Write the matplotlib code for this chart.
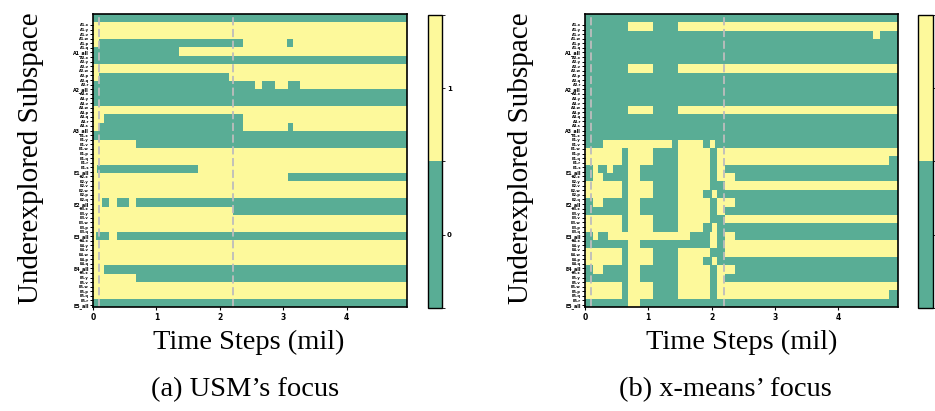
import numpy as np
import matplotlib
matplotlib.use('Agg')
import matplotlib.pyplot as plt
from matplotlib.colors import ListedColormap, BoundaryNorm

# time axis (million steps) and the two dashed markers
t_end = 4.95
marker_times = [0.1, 2.2]
x_ticks = [0, 1, 2, 3, 4]

# y tick labels: big group label preceded by its sub-labels
groups = ['A1', 'A2', 'A3', 'E1', 'E2', 'E3', 'E4', 'E5']
n_sub = [6, 7, 8, 8, 6, 6, 6, 7]
sub_names = ['x', 'y', 'v', 'w', 'p', 'q', 'r', 's']

# each row: (value at t=0, times where the value flips); 0 = teal, 1 = yellow
usm_rows = [
    (0, []),
    (1, []),
    (1, []),
    (1, [0.1, 2.37, 3.06, 3.16]),
    (0, [1.36]),
    (0, []),
    (1, []),
    (1, [0.1, 2.15]),
    (0, [2.55, 2.66, 2.87, 3.07, 3.26]),
    (0, []),
    (0, []),
    (1, []),
    (1, [0.17, 2.37]),
    (1, [0.1, 2.37, 3.07, 3.16]),
    (0, []),
    (1, [0.67]),
    (1, []),
    (1, []),
    (1, [0.06, 1.65]),
    (1, [3.08]),
    (1, []),
    (1, []),
    (1, [0.14, 0.25, 0.37, 0.56, 0.67]),
    (1, [2.2]),
    (1, []),
    (1, []),
    (1, [0.05, 0.25, 0.37]),
    (1, []),
    (1, []),
    (1, []),
    (1, [0.17]),
    (1, [0.67]),
    (1, []),
    (1, []),
    (0, []),
]

xmeans_rows = [
    (0, []),
    (0, [0.68, 1.08, 1.47]),
    (0, [4.55, 4.66]),
    (0, []),
    (0, []),
    (0, []),
    (0, [0.68, 1.08, 1.47]),
    (0, []),
    (0, []),
    (0, []),
    (0, []),
    (0, [0.68, 1.08, 1.47]),
    (0, []),
    (0, []),
    (0, []),
    (0, [0.29, 1.37, 1.47, 1.87, 1.97, 2.05]),
    (1, [0.58, 0.68, 1.08, 1.47, 1.97, 2.08]),
    (1, [0.58, 0.68, 1.08, 1.47, 1.97, 2.08, 4.8]),
    (0, [0.13, 0.2, 0.35, 0.45, 0.68, 0.87, 1.47, 1.97, 2.08, 2.21]),
    (0, [0.13, 0.29, 0.68, 0.87, 1.47, 1.97, 2.08, 2.37]),
    (1, [0.58, 0.68, 1.08, 1.47, 1.97, 2.21]),
    (1, [0.58, 0.68, 1.08, 1.47, 1.87, 2.0, 2.08]),
    (0, [0.13, 0.29, 0.68, 0.87, 1.47, 1.97, 2.08, 2.37]),
    (0, [0.68, 0.87, 1.47, 1.97, 2.08, 2.21]),
    (1, [0.58, 0.68, 1.08, 1.47, 1.97, 2.21]),
    (1, [0.58, 0.68, 1.08, 1.47, 1.87, 2.0, 2.08]),
    (0, [0.13, 0.2, 0.37, 1.66, 1.97, 2.08, 2.21, 2.37]),
    (0, [0.68, 0.87, 1.97, 2.08, 2.21]),
    (1, [0.58, 0.68, 1.08, 1.47, 1.97, 2.21]),
    (1, [0.58, 0.68, 1.08, 1.47, 1.87, 2.0, 2.08]),
    (0, [0.13, 0.29, 0.68, 0.87, 1.47, 1.97, 2.08, 2.37]),
    (0, [0.68, 0.87, 1.47, 1.97, 2.08, 2.21]),
    (1, [0.58, 0.68, 1.08, 1.47, 1.97, 2.08]),
    (1, [0.58, 0.68, 1.08, 1.47, 1.97, 2.08, 4.8]),
    (0, [0.68, 0.87]),
]

TEAL = '#59ad95'
YELLOW = '#fdf99b'
cmap = ListedColormap([TEAL, YELLOW])
norm = BoundaryNorm([-0.5, 0.5, 1.5], 2)
serif = 'Liberation Serif'


def to_grid(rows):
    # merge every flip time into one set of column edges
    edges = np.array(sorted({0.0, t_end} | {t for _, flips in rows for t in flips}))
    mids = (edges[:-1] + edges[1:]) / 2
    z = np.zeros((len(rows), len(mids)))
    for i, (v0, flips) in enumerate(rows):
        n = np.searchsorted(np.array(flips), mids, side='right') if flips else 0
        z[i] = (v0 + n) % 2
    return edges, z


def ytick_labels():
    labels, big = [], []
    for g, n in zip(groups, n_sub):
        for k in range(n):
            labels.append('%s.%s' % (g, sub_names[k % len(sub_names)]))
            big.append(False)
        labels.append(g + '_all')
        big.append(True)
    return labels, big


fig = plt.figure(figsize=(9.35, 4.11), dpi=100)
ax_a = fig.add_axes([0.0995, 0.253, 0.3358, 0.713])
cax_a = fig.add_axes([0.4578, 0.2506, 0.015, 0.713])
ax_b = fig.add_axes([0.6257, 0.253, 0.3348, 0.713])
cax_b = fig.add_axes([0.9818, 0.2506, 0.016, 0.713])

labels, big = ytick_labels()
for ax, cax, rows, show_cb_labels in [(ax_a, cax_a, usm_rows, True),
                                      (ax_b, cax_b, xmeans_rows, False)]:
    edges, z = to_grid(rows)
    mesh = ax.pcolormesh(edges, np.arange(len(rows) + 1), z, cmap=cmap, norm=norm)
    ax.set_xlim(0, t_end)
    ax.set_ylim(len(rows), 0)
    for t in marker_times:
        ax.axvline(t, color='#bdbdbd', ls=(0, (4.5, 2)), lw=1.3)
    ax.set_xticks(x_ticks)
    ax.set_xticklabels([str(v) for v in x_ticks], fontsize=5.5, fontweight='bold')
    ax.tick_params(axis='x', length=2.5, width=0.8, pad=1.5)
    ypos = np.linspace(1.31, len(rows) - 0.23, len(labels))
    ax.set_yticks(ypos)
    ax.set_yticklabels(labels, fontsize=2.6, fontweight='bold')
    for lab, b in zip(ax.get_yticklabels(), big):
        if b:
            lab.set_fontsize(3.4)
    ax.tick_params(axis='y', length=2, width=0.7, pad=1)
    for s in ax.spines.values():
        s.set_linewidth(1.2)

    cb = fig.colorbar(mesh, cax=cax, ticks=[0, 1])
    cb.ax.tick_params(labelsize=5, length=2, width=0.6, pad=1.5)
    if show_cb_labels:
        for lab in cb.ax.get_yticklabels():
            lab.set_fontweight('bold')
    else:
        # the right colour bar's labels fall outside the figure
        cb.ax.set_yticklabels(['', ''])
    cb.outline.set_linewidth(1.0)

for x in [31, 521]:
    fig.text(x / 935, 1 - 158 / 411, 'Underexplored Subspace', rotation=90,
             ha='center', va='center', fontsize=21, family=serif)
for x in [249, 742]:
    fig.text(x / 935, 1 - 342 / 411, 'Time Steps (mil)', ha='center', va='center',
             fontsize=20.5, family=serif)
fig.text(245 / 935, 1 - 390 / 411, '(a) USM\u2019s focus', ha='center', va='center',
         fontsize=20.5, family=serif)
fig.text(725 / 935, 1 - 390 / 411, '(b) x-means\u2019 focus', ha='center', va='center',
         fontsize=20.5, family=serif)

fig.savefig('out.png', dpi=100)
